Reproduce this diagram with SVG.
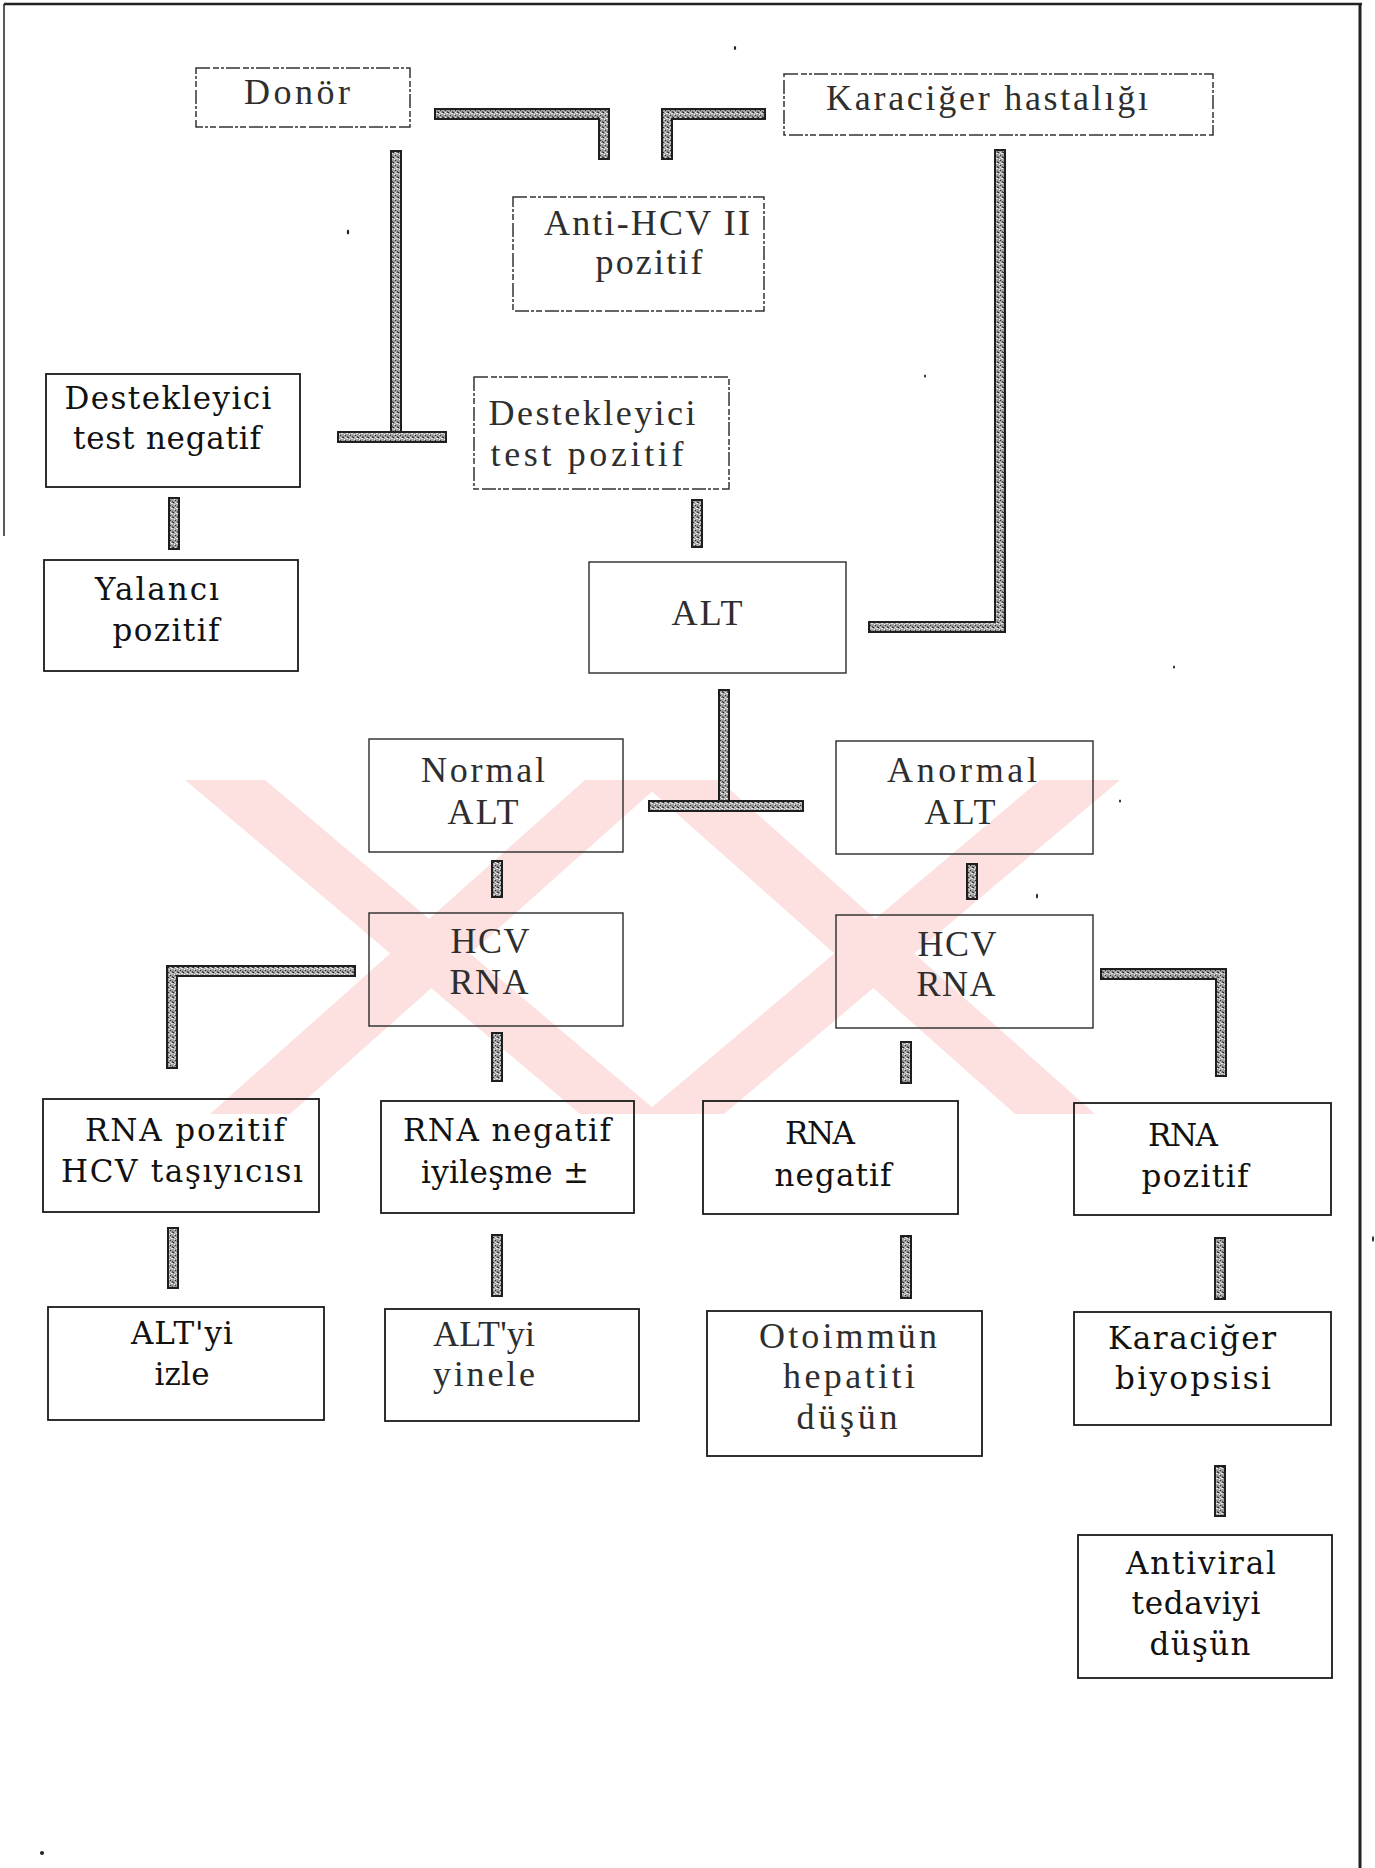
<svg xmlns="http://www.w3.org/2000/svg" width="1375" height="1868" viewBox="0 0 1375 1868">
<defs>
<pattern id="tex" width="5" height="5" patternUnits="userSpaceOnUse">
<rect width="5" height="5" fill="#a0a0a0"/>
<rect x="0" y="0" width="1" height="1" fill="#333"/>
<rect x="2" y="1" width="1" height="2" fill="#555"/>
<rect x="1" y="3" width="2" height="1" fill="#e6e6e6"/>
<rect x="3" y="2" width="1" height="1" fill="#222"/>
<rect x="4" y="4" width="1" height="1" fill="#f4f4f4"/>
<rect x="0" y="2" width="1" height="1" fill="#ddd"/>
</pattern>
<style>
.box{fill:none;stroke:#1a1a1a;stroke-width:1.8}
.dash{fill:none;stroke:#333;stroke-width:1.5;stroke-dasharray:14 3 6 2 3 2}
.thin{fill:none;stroke:#2a2a2a;stroke-width:1.4}
.t{font-family:"Liberation Serif","Times New Roman",serif;font-size:36px;text-anchor:middle;fill:#2e2e2e}
.d{font-family:"DejaVu Serif","Liberation Serif",serif;font-size:31px;fill:#111}
.edge{fill:none;stroke:#1e1e1e;stroke-width:12;stroke-linejoin:miter;stroke-linecap:butt}
.bar{fill:none;stroke:url(#tex);stroke-width:8;stroke-linejoin:miter;stroke-linecap:butt}
.wm{fill:#fde0e0}
</style>
</defs>
<rect width="1375" height="1868" fill="#ffffff"/>

<g id="watermark">
<polygon class="wm" points="185,780 265,780 660,1114 580,1114"/>
<polygon class="wm" points="1040,780 1120,780 724,1114 644,1114"/>
<polygon class="wm" points="585,780 665,780 290,1114 210,1114"/>
<polygon class="wm" points="639,780 719,780 1095,1114 1015,1114"/>
</g>

<g id="frame" fill="none" stroke="#222">
<path d="M4 4 H1362" stroke-width="2.5"/>
<path d="M4 4 V536" stroke-width="1.5"/>
<path d="M1360 4 V1868" stroke-width="3"/>
</g>

<g id="specks" fill="#222">
<ellipse cx="735" cy="48" rx="1.2" ry="2"/>
<ellipse cx="348" cy="232" rx="1.2" ry="2.5"/>
<ellipse cx="925" cy="376" rx="1" ry="1.5"/>
<ellipse cx="1174" cy="667" rx="1" ry="1.5"/>
<ellipse cx="1120" cy="801" rx="1" ry="1.5"/>
<ellipse cx="1037" cy="896" rx="1" ry="2.5"/>
<ellipse cx="42" cy="1853" rx="2" ry="2"/>
<ellipse cx="1373" cy="1239" rx="1" ry="3"/>
</g>

<g id="connectors">
<path class="edge" d="M434 114 H604 V160"/><path class="bar" d="M436 114 H604 V158"/>
<path class="edge" d="M766 114 H667 V160"/><path class="bar" d="M764 114 H667 V158"/>
<path class="edge" d="M396 150 V437"/><path class="bar" d="M396 152 V437"/>
<path class="edge" d="M337 437 H447"/><path class="bar" d="M339 437 H445"/>
<path class="edge" d="M1000 149 V627 H868"/><path class="bar" d="M1000 151 V627 H870"/>
<path class="edge" d="M174 497 V550"/><path class="bar" d="M174 499 V548"/>
<path class="edge" d="M697 499 V548"/><path class="bar" d="M697 501 V546"/>
<path class="edge" d="M724 689 V806"/><path class="bar" d="M724 691 V806"/>
<path class="edge" d="M648 806 H804"/><path class="bar" d="M650 806 H802"/>
<path class="edge" d="M497 860 V898"/><path class="bar" d="M497 862 V896"/>
<path class="edge" d="M972 863 V900"/><path class="bar" d="M972 865 V898"/>
<path class="edge" d="M356 971 H172 V1069"/><path class="bar" d="M354 971 H172 V1067"/>
<path class="edge" d="M497 1032 V1082"/><path class="bar" d="M497 1034 V1080"/>
<path class="edge" d="M906 1041 V1084"/><path class="bar" d="M906 1043 V1082"/>
<path class="edge" d="M1100 974 H1221 V1077"/><path class="bar" d="M1102 974 H1221 V1075"/>
<path class="edge" d="M173 1227 V1289"/><path class="bar" d="M173 1229 V1287"/>
<path class="edge" d="M497 1234 V1297"/><path class="bar" d="M497 1236 V1295"/>
<path class="edge" d="M906 1235 V1299"/><path class="bar" d="M906 1237 V1297"/>
<path class="edge" d="M1220 1237 V1300"/><path class="bar" d="M1220 1239 V1298"/>
<path class="edge" d="M1220 1465 V1517"/><path class="bar" d="M1220 1467 V1515"/>
</g>

<g id="n-donor"><rect class="dash" x="196" y="68" width="214" height="59"/>
<text class="t" x="297" y="104" textLength="106" lengthAdjust="spacing">Donör</text></g>

<g id="n-karaciger-hastaligi"><rect class="dash" x="784" y="74" width="429" height="61"/>
<text class="t" x="987" y="110" textLength="322" lengthAdjust="spacing">Karaciğer hastalığı</text></g>

<g id="n-antihcv"><rect class="dash" x="513" y="197" width="251" height="114"/>
<text class="t" x="647" y="235" textLength="206" lengthAdjust="spacing">Anti-HCV II</text>
<text class="t" x="649" y="274" textLength="107" lengthAdjust="spacing">pozitif</text></g>

<g id="n-dest-neg"><rect class="box" x="46" y="374" width="254" height="113"/>
<text class="t d" x="168" y="409" textLength="207" lengthAdjust="spacing">Destekleyici</text>
<text class="t d" x="167" y="449" textLength="188" lengthAdjust="spacing">test negatif</text></g>

<g id="n-dest-poz"><rect class="dash" x="474" y="377" width="255" height="112"/>
<text class="t" x="592" y="425" textLength="207" lengthAdjust="spacing">Destekleyici</text>
<text class="t" x="587" y="466" textLength="193" lengthAdjust="spacing">test pozitif</text></g>

<g id="n-yalanci"><rect class="box" x="44" y="560" width="254" height="111"/>
<text class="t d" x="157" y="600" textLength="124" lengthAdjust="spacing">Yalancı</text>
<text class="t d" x="166" y="641" textLength="107" lengthAdjust="spacing">pozitif</text></g>

<g id="n-alt"><rect class="thin" x="589" y="562" width="257" height="111"/>
<text class="t" x="707" y="625" textLength="71" lengthAdjust="spacing">ALT</text></g>

<g id="n-normal-alt"><rect class="thin" x="369" y="739" width="254" height="113"/>
<text class="t" x="483" y="782" textLength="124" lengthAdjust="spacing">Normal</text>
<text class="t" x="483" y="824" textLength="71" lengthAdjust="spacing">ALT</text></g>

<g id="n-anormal-alt"><rect class="thin" x="836" y="741" width="257" height="113"/>
<text class="t" x="962" y="782" textLength="150" lengthAdjust="spacing">Anormal</text>
<text class="t" x="960" y="824" textLength="71" lengthAdjust="spacing">ALT</text></g>

<g id="n-hcvrna-l"><rect class="thin" x="369" y="913" width="254" height="113"/>
<text class="t" x="490" y="953" textLength="79" lengthAdjust="spacing">HCV</text>
<text class="t" x="489" y="994" textLength="79" lengthAdjust="spacing">RNA</text></g>

<g id="n-hcvrna-r"><rect class="thin" x="836" y="915" width="257" height="113"/>
<text class="t" x="957" y="956" textLength="79" lengthAdjust="spacing">HCV</text>
<text class="t" x="956" y="996" textLength="79" lengthAdjust="spacing">RNA</text></g>

<g id="n-rna-poz-tasiyici"><rect class="box" x="43" y="1099" width="276" height="113"/>
<text class="t d" x="185" y="1141" textLength="200" lengthAdjust="spacing">RNA pozitif</text>
<text class="t d" x="182" y="1182" textLength="242" lengthAdjust="spacing">HCV taşıyıcısı</text></g>

<g id="n-rna-neg-iyilesme"><rect class="box" x="381" y="1101" width="253" height="112"/>
<text class="t d" x="507" y="1141" textLength="208" lengthAdjust="spacing">RNA negatif</text>
<text class="t d" x="505" y="1183" textLength="168" lengthAdjust="spacing">iyileşme ±</text></g>

<g id="n-rna-neg"><rect class="box" x="703" y="1101" width="255" height="113"/>
<text class="t d" x="820" y="1144" textLength="70" lengthAdjust="spacing">RNA</text>
<text class="t d" x="833" y="1186" textLength="117" lengthAdjust="spacing">negatif</text></g>

<g id="n-rna-poz"><rect class="box" x="1074" y="1103" width="257" height="112"/>
<text class="t d" x="1183" y="1146" textLength="70" lengthAdjust="spacing">RNA</text>
<text class="t d" x="1195" y="1187" textLength="107" lengthAdjust="spacing">pozitif</text></g>

<g id="n-alt-izle"><rect class="box" x="48" y="1307" width="276" height="113"/>
<text class="t d" x="182" y="1344" textLength="102" lengthAdjust="spacing">ALT'yi</text>
<text class="t d" x="182" y="1385" textLength="55" lengthAdjust="spacing">izle</text></g>

<g id="n-alt-yinele"><rect class="box" x="385" y="1309" width="254" height="112"/>
<text class="t" x="484" y="1346" textLength="102" lengthAdjust="spacing">ALT'yi</text>
<text class="t" x="484" y="1386" textLength="102" lengthAdjust="spacing">yinele</text></g>

<g id="n-otoimmun"><rect class="box" x="707" y="1311" width="275" height="145"/>
<text class="t" x="848" y="1348" textLength="178" lengthAdjust="spacing">Otoimmün</text>
<text class="t" x="849" y="1388" textLength="132" lengthAdjust="spacing">hepatiti</text>
<text class="t" x="847" y="1429" textLength="101" lengthAdjust="spacing">düşün</text></g>

<g id="n-biyopsi"><rect class="box" x="1074" y="1312" width="257" height="113"/>
<text class="t d" x="1192" y="1349" textLength="168" lengthAdjust="spacing">Karaciğer</text>
<text class="t d" x="1193" y="1389" textLength="156" lengthAdjust="spacing">biyopsisi</text></g>

<g id="n-antiviral"><rect class="box" x="1078" y="1535" width="254" height="143"/>
<text class="t d" x="1201" y="1574" textLength="150" lengthAdjust="spacing">Antiviral</text>
<text class="t d" x="1196" y="1614" textLength="129" lengthAdjust="spacing">tedaviyi</text>
<text class="t d" x="1200" y="1655" textLength="101" lengthAdjust="spacing">düşün</text></g>
</svg>
